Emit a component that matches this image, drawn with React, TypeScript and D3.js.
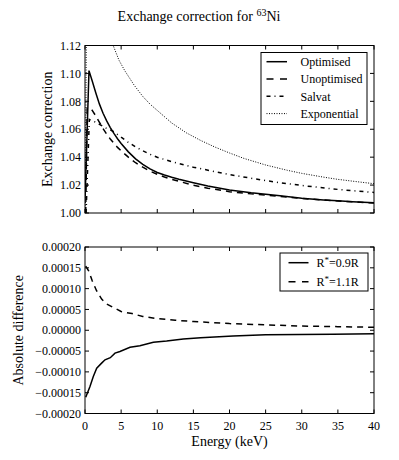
import React from "react";
import * as d3 from "d3";

// ---- Data ----
const energyTicks = [0, 5, 10, 15, 20, 25, 30, 35, 40];
const topYTicks = [1.0, 1.02, 1.04, 1.06, 1.08, 1.1, 1.12];
const botYTicks = [-0.0002, -0.00015, -0.0001, -0.00005, 0, 0.00005, 0.0001, 0.00015, 0.0002];

const optimised: [number, number][] = [
  [0.02, 1.012], [0.55, 1.102], [1.0, 1.0945], [1.5, 1.086], [2.0, 1.078], [2.5, 1.0715],
  [3.0, 1.066], [3.5, 1.0612], [4.0, 1.057], [4.5, 1.0532], [5.0, 1.0498], [6.0, 1.0438],
  [7.0, 1.0388], [8.0, 1.0348], [9.0, 1.0316], [10, 1.029], [11, 1.0272], [12, 1.0256],
  [13, 1.0242], [15, 1.0217], [17, 1.0193], [20, 1.0165], [23, 1.0145], [25, 1.0134],
  [27, 1.0123], [30, 1.0106], [33, 1.0094], [35, 1.0087], [37, 1.0081], [40, 1.0073],
];

const unoptimised: [number, number][] = [
  [0.1, 1.0], [0.3, 1.075], [0.8, 1.075], [1.0, 1.0735], [1.5, 1.0695], [2.0, 1.065],
  [2.5, 1.0605], [3.0, 1.0565], [3.5, 1.053], [4.0, 1.05], [4.5, 1.047], [5.0, 1.0445],
  [6.0, 1.04], [7.0, 1.036], [8.0, 1.0328], [9.0, 1.03], [10, 1.0277], [11, 1.0258],
  [12, 1.0241], [13, 1.0227], [15, 1.0199], [17, 1.0178], [20, 1.0153], [23, 1.0137],
  [25, 1.0128], [27, 1.0119], [30, 1.0104], [33, 1.0093], [35, 1.0086], [37, 1.008],
  [40, 1.0072],
];

const salvat: [number, number][] = [
  [0.15, 1.0], [0.6, 1.067], [1.0, 1.066], [1.5, 1.065], [2.0, 1.0635], [2.5, 1.062],
  [3.0, 1.0605], [3.5, 1.0595], [4.0, 1.0582], [5.0, 1.0543], [6.0, 1.0506], [7.0, 1.0474],
  [8.0, 1.0446], [9.0, 1.0421], [10, 1.0399], [12, 1.0368], [15, 1.0328], [20, 1.0275],
  [25, 1.0232], [27, 1.0217], [30, 1.0197], [35, 1.0169], [40, 1.0147],
];

const exponential: [number, number][] = [
  [0.05, 1.0], [0.25, 1.2], [3.9, 1.12], [4.7, 1.1095], [5.5, 1.102], [6.8, 1.0916],
  [8.0, 1.0835], [9.0, 1.078], [10, 1.0735], [12, 1.0645], [14, 1.0575], [16, 1.052],
  [18, 1.0472], [20, 1.043], [22, 1.0391], [25, 1.0344], [28, 1.0306], [30, 1.0284],
  [33, 1.0257], [35, 1.0241], [38, 1.0222], [40, 1.021],
];

const r09: [number, number][] = [
  [0.1, -0.000161], [0.69, -0.000135], [1.15, -0.000111], [1.62, -0.000091], [2.3, -0.000079],
  [2.77, -0.000071], [3.5, -0.000066], [4.15, -0.000055], [4.84, -0.000051], [6.23, -0.000041],
  [7.6, -0.000037], [9.46, -0.000029], [11.3, -0.000026], [13.6, -0.000021], [16, -0.000018],
  [20.5, -0.000014], [25, -0.000011], [29.7, -0.00001], [34.3, -0.0000095], [40, -0.0000087],
];

const r11: [number, number][] = [
  [0.1, 0.000154], [0.5, 0.000143], [1.0, 0.000119], [1.6, 0.000095], [2.3, 0.000075],
  [3.0, 0.000063], [4.0, 0.000054], [5.0, 0.000045], [6.5, 0.00004], [8.0, 0.000033],
  [10, 0.000028], [12.5, 0.000024], [15, 0.000021], [20, 0.000016], [25, 0.000013],
  [30, 0.00001], [35, 0.0000087], [40, 0.0000071],
];

const topSeries = [
  { name: "Optimised", data: optimised, dash: "none", width: 1.5 },
  { name: "Unoptimised", data: unoptimised, dash: "6,5", width: 1.5 },
  { name: "Salvat", data: salvat, dash: "4,4,1,4", width: 1.5 },
  { name: "Exponential", data: exponential, dash: "1,1.5", width: 1 },
];

const botSeries = [
  { name: "0.9", data: r09, dash: "none", width: 1.5 },
  { name: "1.1", data: r11, dash: "6,5", width: 1.5 },
];

// ---- Layout ----
const W = 399;
const H = 460;
const L = 85;
const R = 374;
const topT = 45.5;
const topB = 213;
const botT = 247;
const botB = 413.5;
const FONT = "'Liberation Serif', 'DejaVu Serif', serif";

const fmtTop = (v: number) => v.toFixed(2);
const fmtBot = (v: number) => {
  const s = Math.abs(v).toFixed(5);
  return v < -1e-12 ? "\u2212" + s : s;
};

function Panel({ y, yTicks, fmt, series, clipId, showX }: any) {
  const x = d3.scaleLinear().domain([0, 40]).range([L, R]);
  const [y0, y1] = y.range();
  const line = d3
    .line<[number, number]>()
    .x((d) => x(d[0]))
    .y((d) => y(d[1]));
  const tk = 4;
  return (
    <g>
      <defs>
        <clipPath id={clipId}>
          <rect x={L} y={y1} width={R - L} height={y0 - y1} />
        </clipPath>
      </defs>
      <g clipPath={`url(#${clipId})`}>
        {series.map((s: any) => (
          <path
            key={s.name}
            d={line(s.data) || ""}
            fill="none"
            stroke="#000"
            strokeWidth={s.width}
            strokeDasharray={s.dash === "none" ? undefined : s.dash}
          />
        ))}
      </g>
      {energyTicks.map((t) => (
        <g key={"x" + t}>
          <line x1={x(t)} x2={x(t)} y1={y0} y2={y0 - tk} stroke="#000" />
          <line x1={x(t)} x2={x(t)} y1={y1} y2={y1 + tk} stroke="#000" />
          {showX && (
            <text x={x(t)} y={y0 + 16.5} textAnchor="middle" fontSize={12} fontFamily={FONT}>
              {t}
            </text>
          )}
        </g>
      ))}
      {yTicks.map((t: number) => (
        <g key={"y" + t}>
          <line x1={L} x2={L + tk} y1={y(t)} y2={y(t)} stroke="#000" />
          <line x1={R} x2={R - tk} y1={y(t)} y2={y(t)} stroke="#000" />
          <text x={L - 4} y={y(t) + 4.2} textAnchor="end" fontSize={12} fontFamily={FONT}>
            {fmt(t)}
          </text>
        </g>
      ))}
      <rect x={L} y={y1} width={R - L} height={y0 - y1} fill="none" stroke="#000" strokeWidth={1} />
    </g>
  );
}

export default function App() {
  const yTop = d3.scaleLinear().domain([1.0, 1.12]).range([topB, topT]);
  const yBot = d3.scaleLinear().domain([-0.0002, 0.0002]).range([botB, botT]);

  const legTop = { x: 261, y: 52.5, w: 106, h: 72 };
  const legBot = { x: 280, y: 253, w: 88, h: 38 };

  return (
    <svg width={W} height={H} style={{ position: "absolute", left: 0, top: 0, background: "#fff" }}>
      <rect width={W} height={H} fill="#fff" />
      <text x={199} y={21} textAnchor="middle" fontSize={14} fontFamily={FONT}>
        Exchange correction for{" "}
        <tspan fontSize={10} dy={-5}>63</tspan>
        <tspan dy={5}>Ni</tspan>
      </text>
      <Panel y={yTop} yTicks={topYTicks} fmt={fmtTop} series={topSeries} clipId="clipTop" showX={false} />
      <Panel y={yBot} yTicks={botYTicks} fmt={fmtBot} series={botSeries} clipId="clipBot" showX={true} />

      <text
        transform={`translate(51.5, ${(topT + topB) / 2}) rotate(-90)`}
        textAnchor="middle"
        fontSize={14}
        fontFamily={FONT}
      >
        Exchange correction
      </text>
      <text
        transform={`translate(22.5, ${(botT + botB) / 2}) rotate(-90)`}
        textAnchor="middle"
        fontSize={14}
        fontFamily={FONT}
      >
        Absolute difference
      </text>
      <text x={(L + R) / 2} y={445.5} textAnchor="middle" fontSize={14} fontFamily={FONT}>
        Energy (keV)
      </text>

      {/* Top legend */}
      <rect x={legTop.x} y={legTop.y} width={legTop.w} height={legTop.h} fill="#fff" stroke="#000" strokeWidth={1} />
      {topSeries.map((s, i) => {
        const yy = 61.7 + i * 17.3;
        return (
          <g key={s.name}>
            <line
              x1={266.5}
              x2={287}
              y1={yy}
              y2={yy}
              stroke="#000"
              strokeWidth={s.width}
              strokeDasharray={s.dash === "none" ? undefined : s.dash === "6,5" ? "7,6.5" : s.dash}
            />
            <text x={300.5} y={yy + 4.2} fontSize={12} fontFamily={FONT}>
              {s.name}
            </text>
          </g>
        );
      })}

      {/* Bottom legend */}
      <rect x={legBot.x} y={legBot.y} width={legBot.w} height={legBot.h} fill="#fff" stroke="#000" strokeWidth={1} />
      {botSeries.map((s, i) => {
        const yy = 262.7 + i * 19;
        return (
          <g key={s.name}>
            <line
              x1={288.5}
              x2={308.5}
              y1={yy}
              y2={yy}
              stroke="#000"
              strokeWidth={s.width}
              strokeDasharray={s.dash === "none" ? undefined : "7,6.5"}
            />
            <text x={316.5} y={yy + 4.2} fontSize={12} fontFamily={FONT}>
              R<tspan fontSize={9} dy={-4}>*</tspan>
              <tspan dy={4}>={s.name}R</tspan>
            </text>
          </g>
        );
      })}
    </svg>
  );
}
